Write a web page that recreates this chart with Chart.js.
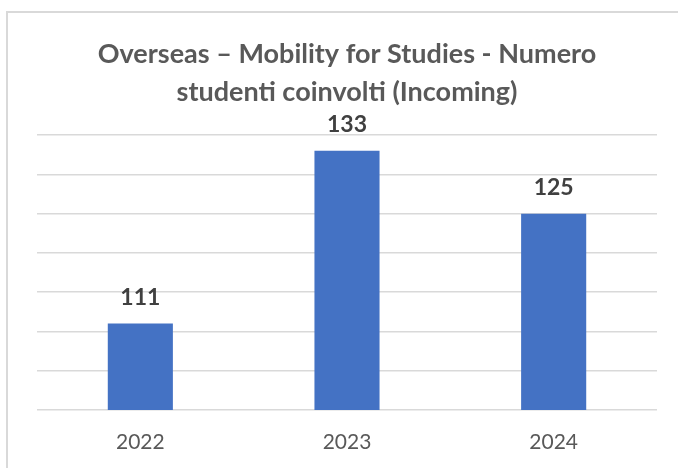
<!DOCTYPE html>
<html>
<head>
<meta charset="utf-8">
<script src="https://cdn.jsdelivr.net/npm/chart.js@4/dist/chart.umd.min.js"></script>
<style>
  html, body { margin: 0; padding: 0; background: #fff; overflow: hidden; }
  #wrap { position: relative; width: 678px; height: 468px; }
  #frame { position: absolute; left: 6px; top: 11px; width: 800px; height: 600px; border: 2px solid #d9d9d9; }
  #chart { position: absolute; left: 0; top: 0; }
</style>
</head>
<body>
<div id="wrap">
  <div id="frame"></div>
  <canvas id="chart" width="678" height="468"></canvas>
</div>
<script>
// anni e numero studenti in entrata
var anni = ['2022', '2023', '2024'];
var studenti = [111, 133, 125];
// \u200c evita la legatura "ti" di Lato
var titolo = ['Overseas \u2013 Mobility for Studies - Numero', 'studen\u200cti coinvol\u200cti (Incoming)'];

// etichette sopra le barre
var etichette = {
    id: 'etichette',
    afterDatasetsDraw: function(chart) {
        var ctx = chart.ctx;
        var meta = chart.getDatasetMeta(0);
        ctx.save();
        ctx.font = 'bold 23px Lato';
        ctx.fillStyle = '#404040';
        ctx.textAlign = 'center';
        ctx.textBaseline = 'alphabetic';
        meta.data.forEach(function(bar, i) {
            ctx.fillText(chart.data.datasets[0].data[i], bar.x, bar.y - 19);
        });
        ctx.restore();
    }
};

var ctx = document.getElementById('chart').getContext('2d');
var grafico = new Chart(ctx, {
    type: 'bar',
    data: {
        labels: anni,
        datasets: [{
            label: 'Incoming',
            data: studenti,
            backgroundColor: '#4472c4',
            barPercentage: 0.315,
            categoryPercentage: 1
        }]
    },
    options: {
        responsive: false,
        animation: false,
        devicePixelRatio: 1,
        layout: { padding: { left: 37, right: 21, top: 16, bottom: 0 } },
        plugins: {
            legend: { display: false },
            tooltip: { enabled: false },
            title: {
                display: true,
                text: titolo,
                color: '#595959',
                font: { family: 'Lato', size: 27, weight: 'bold', lineHeight: 1.41 },
                padding: { top: 19, bottom: 24 }
            }
        },
        scales: {
            x: {
                grid: { display: false, drawTicks: false },
                border: { display: false },
                ticks: { color: '#595959', font: { family: 'Lato', size: 21 }, padding: 20 },
                afterFit: function(axis) { axis.height = 58; }
            },
            y: {
                min: 100,
                max: 135,
                ticks: { display: false, stepSize: 5 },
                border: { display: false },
                grid: { color: '#d9d9d9', lineWidth: 1.5, drawTicks: false }
            }
        }
    },
    plugins: [etichette]
});
</script>
</body>
</html>
